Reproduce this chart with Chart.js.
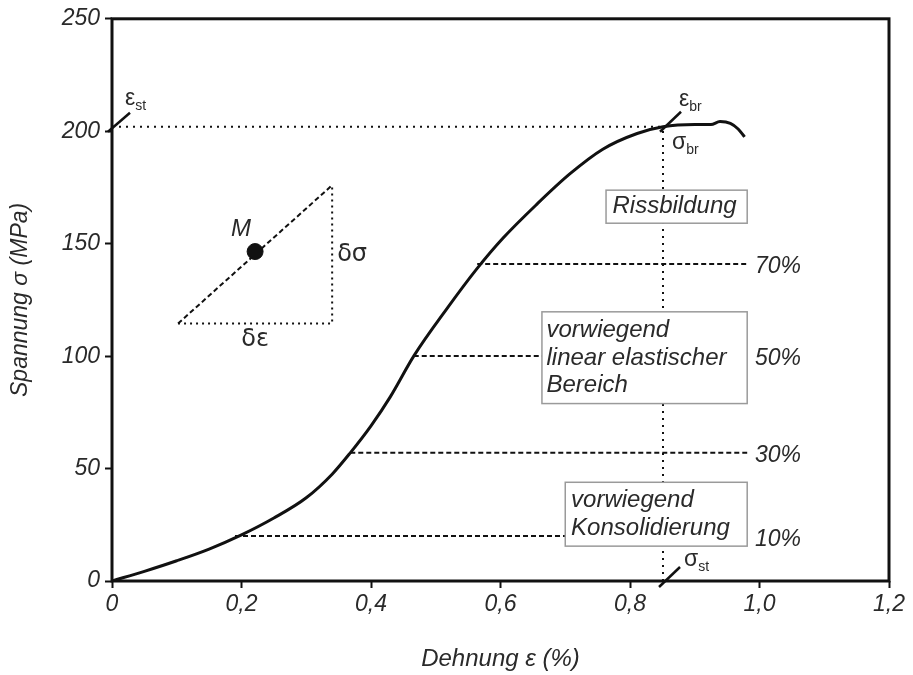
<!DOCTYPE html>
<html>
<head>
  <title>Spannung-Dehnung</title>
  <script src="https://cdn.jsdelivr.net/npm/chart.js"></script>
  <style>
    body { margin: 0; background: #fff; }
    #wrap { width: 913px; height: 675px; }
  </style>
</head>
<body>
  <div id="wrap"><canvas id="chart" width="913" height="675"></canvas></div>
  <script>
    // stress-strain curve
    var strain = [0, 0.05, 0.1, 0.15, 0.2, 0.25, 0.3, 0.34, 0.368, 0.4, 0.43, 0.466, 0.517, 0.564, 0.604, 0.656, 0.707, 0.758, 0.811, 0.851, 0.9, 0.925, 0.939, 0.955, 0.967, 0.977];
    var stress = [0, 4.3, 9, 14.2, 20.5, 28, 37, 47.5, 57, 69, 82, 100, 121, 139, 152.5, 167.5, 181, 192, 199, 202, 203, 203, 204.3, 203.5, 201, 197.5];

    // break point
    var peakStrain = 0.851;
    var peakStress = 202;

    // load levels (share of break stress)
    var levelLabels = ['10%', '30%', '50%', '70%'];
    var levelStress = [20, 57, 100, 141];
    var levelFrom = [0.19, 0.368, 0.466, 0.564];
    var levelTo = [0.70, 0.981, 0.664, 0.981];

    // modulus triangle
    var triStrain = [0.102, 0.34];
    var triStress = [114.5, 176];
    var pointM = [0.221, 146.5];

    var xTicks = [0, 0.2, 0.4, 0.6, 0.8, 1.0, 1.2];
    var yTicks = [0, 50, 100, 150, 200, 250];

    function pts(xs, ys) {
      return xs.map(function (x, i) { return { x: x, y: ys[i] }; });
    }

    var FONT = '"Liberation Sans", Arial, sans-serif';
    var ink = '#111';
    var txt = '#2a2a2a';

    var datasets = [];
    // curve
    datasets.push({
      data: pts(strain, stress),
      borderColor: ink, borderWidth: 3, pointRadius: 0,
      cubicInterpolationMode: 'monotone', order: 1
    });
    // dotted lines to break point
    datasets.push({
      data: pts([0, peakStrain], [peakStress, peakStress]),
      borderColor: ink, borderWidth: 2, borderDash: [2, 5], pointRadius: 0, order: 3
    });
    datasets.push({
      data: pts([peakStrain, peakStrain], [0, peakStress]),
      borderColor: ink, borderWidth: 2, borderDash: [2, 5], pointRadius: 0, order: 3
    });
    // dashed level lines
    levelStress.forEach(function (s, i) {
      datasets.push({
        data: pts([levelFrom[i], levelTo[i]], [s, s]),
        borderColor: ink, borderWidth: 2, borderDash: [5, 3], pointRadius: 0, order: 2
      });
    });
    // triangle
    datasets.push({
      data: pts(triStrain, triStress),
      borderColor: ink, borderWidth: 2, borderDash: [5, 3], pointRadius: 0, order: 2
    });
    datasets.push({
      data: pts([triStrain[0], triStrain[1], triStrain[1]], [triStress[0], triStress[0], triStress[1]]),
      borderColor: ink, borderWidth: 2, borderDash: [2, 4], pointRadius: 0, order: 2
    });
    datasets.push({
      data: [{ x: pointM[0], y: pointM[1] }],
      showLine: false, pointRadius: 8, pointBackgroundColor: ink, pointBorderColor: ink, order: 0
    });

    // text notes in data units
    var boxes = [
      { x0: 0.763, x1: 0.981, y0: 173.8, y1: 159.1, lines: ['Rissbildung'], tx: 0.773, ty: [166.5] },
      { x0: 0.664, x1: 0.981, y0: 119.7, y1: 78.9, lines: ['vorwiegend', 'linear elastischer', 'Bereich'], tx: 0.671, ty: [111.5, 99.2, 87] },
      { x0: 0.70, x1: 0.981, y0: 43.9, y1: 15.5, lines: ['vorwiegend', 'Konsolidierung'], tx: 0.709, ty: [36, 23.5] }
    ];
    var pctPos = [18.2, 55.9, 98.8, 140];

    var notes = {
      id: 'notes',
      beforeDatasetsDraw: function (chart) {
        var c = chart.ctx, a = chart.chartArea;
        c.save();
        c.strokeStyle = ink; c.lineWidth = 3;
        c.strokeRect(a.left, a.top, a.right - a.left, a.bottom - a.top);
        c.restore();
      },
      afterDatasetsDraw: function (chart) {
        var c = chart.ctx, xs = chart.scales.x, ys = chart.scales.y;
        var X = function (v) { return xs.getPixelForValue(v); };
        var Y = function (v) { return ys.getPixelForValue(v); };
        c.save();
        // boxes
        boxes.forEach(function (b) {
          c.fillStyle = '#fff';
          c.fillRect(X(b.x0), Y(b.y0), X(b.x1) - X(b.x0), Y(b.y1) - Y(b.y0));
          c.strokeStyle = '#9a9a9a'; c.lineWidth = 1.5;
          c.strokeRect(X(b.x0), Y(b.y0), X(b.x1) - X(b.x0), Y(b.y1) - Y(b.y0));
          c.fillStyle = txt; c.font = 'italic 24px ' + FONT;
          c.textBaseline = 'middle'; c.textAlign = 'left';
          b.lines.forEach(function (t, i) { c.fillText(t, X(b.tx), Y(b.ty[i])); });
        });
        // percent labels
        c.font = 'italic 23px ' + FONT; c.fillStyle = txt;
        levelLabels.forEach(function (t, i) { c.fillText(t, X(0.993), Y(pctPos[i])); });

        // slash marks
        c.strokeStyle = ink; c.lineWidth = 2.5;
        function slash(px, py, dx0, dy0, dx1, dy1) {
          c.beginPath(); c.moveTo(px + dx0, py + dy0); c.lineTo(px + dx1, py + dy1); c.stroke();
        }
        slash(X(0), Y(peakStress), -4, 5, 18, -14);
        slash(X(peakStrain), Y(peakStress), -3, 5, 18, -15);
        slash(X(peakStrain), Y(0), -4, 6, 17, -14);

        // symbols with subscripts
        function sym(s, sub, px, py) {
          c.font = '23px ' + FONT; c.fillStyle = txt; c.textAlign = 'left'; c.textBaseline = 'alphabetic';
          c.fillText(s, px, py);
          var w = c.measureText(s).width;
          c.font = '14px ' + FONT;
          c.fillText(sub, px + w, py + 5);
        }
        sym('\u03b5', 'st', X(0) + 13, Y(peakStress) - 22);
        sym('\u03b5', 'br', X(peakStrain) + 16, Y(peakStress) - 21);
        sym('\u03c3', 'br', X(peakStrain) + 9, Y(peakStress) + 22);
        sym('\u03c3', 'st', X(peakStrain) + 21, Y(0) - 15);

        // triangle labels
        c.textBaseline = 'middle'; c.textAlign = 'center';
        c.font = 'italic 24px ' + FONT;
        c.fillText('M', X(pointM[0]) - 14, Y(pointM[1]) - 22);
        c.font = '24px "DejaVu Sans", sans-serif';
        c.textAlign = 'left';
        c.fillText('\u03b4\u03c3', X(triStrain[1]) + 5, Y((triStress[0] + triStress[1]) / 2));
        c.textAlign = 'center';
        c.fillText('\u03b4\u03b5', X((triStrain[0] + triStrain[1]) / 2), Y(triStress[0]) + 16);
        c.restore();
      }
    };

    new Chart(document.getElementById('chart'), {
      type: 'scatter',
      data: { datasets: datasets },
      options: {
        responsive: false,
        animation: false,
        layout: { padding: { top: 17, right: 24, left: 0, bottom: 0 } },
        plugins: { legend: { display: false }, tooltip: { enabled: false } },
        datasets: { scatter: { showLine: true } },
        scales: {
          x: {
            type: 'linear', min: 0, max: 1.2,
            afterBuildTicks: function (s) { s.ticks = xTicks.map(function (v) { return { value: v }; }); },
            afterFit: function (s) { s.height = 94; },
            ticks: {
              color: txt, padding: 3,
              font: { family: FONT, size: 23, style: 'italic' },
              callback: function (v) { return v === 0 ? '0' : v.toFixed(1).replace('.', ','); }
            },
            grid: { drawOnChartArea: false, tickLength: 7, tickWidth: 2, color: ink },
            border: { display: false },
            title: {
              display: true, text: 'Dehnung \u03b5 (%)', color: txt,
              font: { family: FONT, size: 24, style: 'italic' },
              padding: { top: 0, bottom: 1 }
            }
          },
          y: {
            type: 'linear', min: 0, max: 250,
            afterBuildTicks: function (s) { s.ticks = yTicks.map(function (v) { return { value: v }; }); },
            afterFit: function (s) { s.width = 112; },
            ticks: {
              color: txt, padding: 5,
              font: { family: FONT, size: 23, style: 'italic' },
              callback: function (v) { return String(v); }
            },
            grid: { drawOnChartArea: false, tickLength: 7, tickWidth: 2, color: ink },
            border: { display: false },
            title: {
              display: true, text: 'Spannung \u03c3 (MPa)', color: txt,
              font: { family: FONT, size: 23, style: 'italic' },
              padding: { top: 7, bottom: 0 }
            }
          }
        }
      },
      plugins: [notes]
    });
  </script>
</body>
</html>
